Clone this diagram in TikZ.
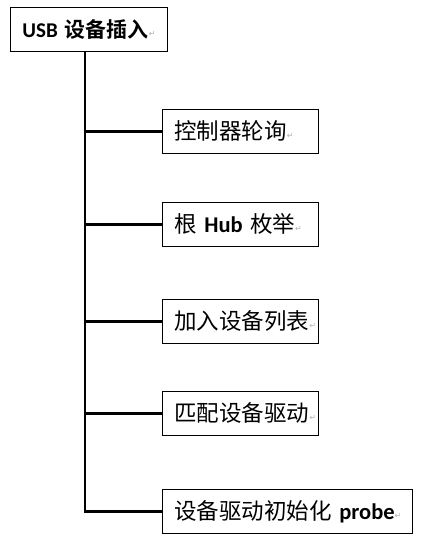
\documentclass[tikz,border=0pt]{standalone}
\usepackage{fontspec}
\setmainfont{Noto Sans CJK SC}[BoldFont={Noto Sans CJK SC Bold}]
\newfontfamily\latin{Carlito}
\newfontfamily\markfont{DejaVu Sans}
\newcommand{\pmark}{{\markfont\fontsize{8}{8}\selectfont\color{gray!60}\raisebox{1pt}{↵}}}
\begin{document}
\begin{tikzpicture}[x=1pt,y=-1pt,
    box/.style={draw, line width=0.8pt, anchor=north west, minimum height=44pt,
                inner xsep=12pt, align=left, font=\fontsize{22.5}{26}\selectfont},
    link/.style={line width=2.6pt}]
    \useasboundingbox (0,0) rectangle (427,547);

    \node[box, minimum width=157pt, text width=133pt, inner xsep=12pt, font=\fontsize{21}{24}\selectfont] (usb) at (10,7) {\mbox{{\latin\bfseries USB} \textbf{设备插入}\pmark}};
    \node[box, minimum width=156pt, text width=132pt] (poll) at (162,109) {控制器轮询\pmark};
    \node[box, minimum width=156pt, text width=132pt] (hub) at (162,202) {根 {\latin\bfseries Hub} 枚举\pmark};
    \node[box, minimum width=156pt, text width=132pt] (list) at (162,299) {加入设备列表\pmark};
    \node[box, minimum width=156pt, text width=132pt] (match) at (162,391) {匹配设备驱动\pmark};
    \node[box, minimum width=250pt, text width=226pt] (probe) at (162,489) {\mbox{设备驱动初始化 {\latin\bfseries probe}\pmark}};

    \coordinate (trunk) at (85,50);

    \draw[link] (usb.south -| trunk) -- (trunk |- probe.west) -- (probe.west);
    \draw[link] (trunk |- poll.west) -- (poll.west);
    \draw[link] (trunk |- hub.west) -- (hub.west);
    \draw[link] (trunk |- list.west) -- (list.west);
    \draw[link] (trunk |- match.west) -- (match.west);
\end{tikzpicture}
\end{document}
